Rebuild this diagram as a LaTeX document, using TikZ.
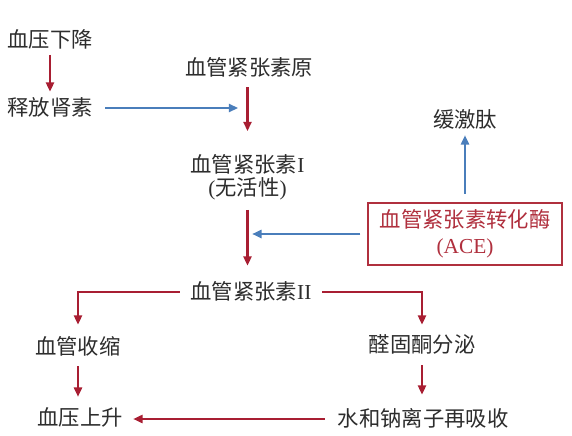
\documentclass[tikz,border=0pt]{standalone}
\usepackage{fontspec}
\setmainfont{Liberation Serif}
\newfontfamily\cjk{Noto Sans CJK SC}
\usetikzlibrary{arrows.meta}

\definecolor{txtgray}{RGB}{45,45,45}
\definecolor{arrred}{RGB}{168,30,50}
\definecolor{arrblue}{RGB}{74,126,187}
\definecolor{boxred}{RGB}{176,48,62}

\begin{document}
\begin{tikzpicture}[x=0.75pt,y=-0.75pt]
    \fill [white] (0,0) rectangle (572,436);
    \useasboundingbox (0,0) rectangle (572,436);

    \begin{scope}[txt/.style={text=txtgray,font=\fontsize{16}{16}\selectfont,inner sep=2pt,text height=13pt,text depth=2pt},
        redarr/.style={draw=arrred,line width=1.7pt,-{Triangle[length=7pt,width=6pt]}},
        bluearr/.style={draw=arrblue,line width=1.7pt,-{Triangle[length=7pt,width=6pt]}},
        acebox/.style={draw=boxred,line width=1.6pt,text=boxred,align=center,inner sep=0pt,
            minimum width=145.5pt,minimum height=46.5pt,font=\fontsize{16}{19.5}\selectfont}]

        \node [txt] (a1) at (50,40)   {\cjk 血压下降};
        \node [txt] (a2) at (50,108)  {\cjk 释放肾素};
        \node [txt] (b1) at (249,68)  {\cjk 血管紧张素原};
        \node [txt, text height=, text depth=, align=center, font=\fontsize{16}{17}\selectfont]
            (b2) at (247.5,177.5) {{\cjk 血管紧张素}I\\({\cjk 无活性})};
        \node [txt] (b3) at (251,292) {{\cjk 血管紧张素}II};
        \node [acebox] (c1) at (465,234) {{\cjk 血管紧张素转化酶}\\(ACE)};
        \node [txt] (c0) at (465,120) {\cjk 缓激肽};
        \node [txt] (d1) at (78,347)  {\cjk 血管收缩};
        \node [txt] (d2) at (80,418)  {\cjk 血压上升};
        \node [txt] (e1) at (422,345) {\cjk 醛固酮分泌};
        \node [txt] (e2) at (423,419) {\cjk 水和钠离子再吸收};

        \draw [redarr, shorten <=1.5pt, shorten >=2.5pt] (a1) -- (a2);
        \draw [bluearr, shorten <=7.3pt, shorten >=7pt] (a2.east) -- (a2.east -| b2);
        \draw [redarr, shorten <=4.7pt, shorten >=15.6pt] (b2.north |- b1.south) -- (b2.north);
        \draw [redarr, shorten <=5.1pt, shorten >=10pt] (b2.south) -- (b2.south |- b3.north);
        \draw [bluearr, shorten <=5pt, shorten >=3.5pt] (c1.west) -- (c1.west -| b2);
        \draw [bluearr, shorten <=6pt, shorten >=1.7pt] (c1.north) -- (c0.south);

        \draw [redarr, shorten <=5.8pt, shorten >=7pt] (b3.west) -| (d1.north);
        \draw [redarr, shorten <=5.8pt, shorten >=5.5pt] (b3.east) -| (e1.north);
        \draw [redarr, shorten <=4.7pt, shorten >=6.2pt] (d1.south) -- (d1.south |- d2.north);
        \draw [redarr, shorten <=5.5pt, shorten >=8.5pt] (e1.south) -- (e1.south |- e2.north);
        \draw [redarr, shorten <=7.5pt, shorten >=5.7pt] (e2.west) -- (e2.west -| d2.east);
    \end{scope}
\end{tikzpicture}
\end{document}
